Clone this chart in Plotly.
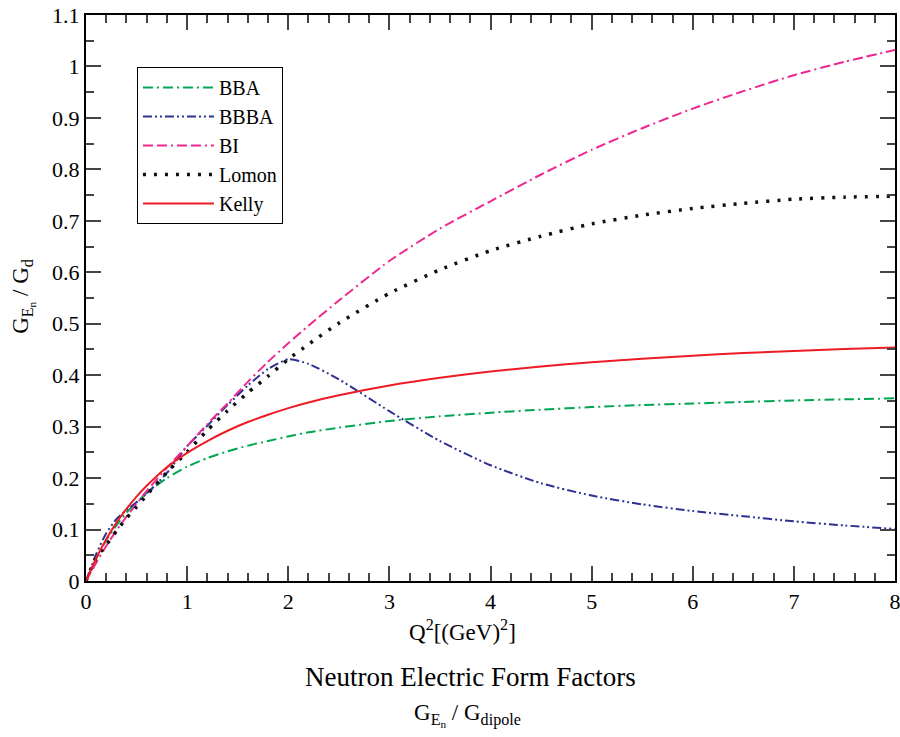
import plotly.graph_objects as go

Q2 = [0, 0.1, 0.2, 0.3, 0.4, 0.5, 0.6, 0.8, 1.0, 1.2, 1.4, 1.6, 1.8, 2.0, 2.2, 2.5,
      3.0, 3.5, 4.0, 4.5, 5.0, 5.5, 6.0, 6.5, 7.0, 7.5, 8.0]

bba = [0, 0.043, 0.079, 0.108, 0.133, 0.153, 0.171, 0.200, 0.222, 0.239, 0.252, 0.263,
       0.272, 0.281, 0.289, 0.298, 0.311, 0.320, 0.327, 0.333, 0.338, 0.342, 0.345,
       0.348, 0.351, 0.353, 0.355]
bbba = [0, 0.052, 0.093, 0.120, 0.138, 0.153, 0.170, 0.210, 0.262, 0.302, 0.342, 0.380,
        0.412, 0.431, 0.422, 0.392, 0.330, 0.272, 0.225, 0.190, 0.166, 0.149, 0.136,
        0.126, 0.116, 0.108, 0.101]
bi = [0, 0.035, 0.068, 0.098, 0.125, 0.150, 0.175, 0.220, 0.262, 0.305, 0.345, 0.387,
      0.426, 0.462, 0.496, 0.545, 0.622, 0.685, 0.738, 0.790, 0.838, 0.880, 0.918,
      0.952, 0.983, 1.009, 1.032]
lomon = [0, 0.045, 0.070, 0.097, 0.122, 0.144, 0.167, 0.211, 0.251, 0.293, 0.331, 0.366,
         0.398, 0.431, 0.460, 0.501, 0.559, 0.605, 0.642, 0.670, 0.694, 0.711, 0.724,
         0.734, 0.742, 0.746, 0.748]
kelly = [0, 0.044, 0.081, 0.113, 0.140, 0.164, 0.185, 0.221, 0.249, 0.272, 0.292, 0.309,
         0.323, 0.336, 0.347, 0.361, 0.380, 0.395, 0.407, 0.417, 0.425, 0.432, 0.438,
         0.443, 0.447, 0.451, 0.454]

names = ["BBA", "BBBA", "BI", "Lomon", "Kelly"]
FONT = "Liberation Serif"

series = [
    (bba, "#00a651", "10px,4px,2px,4px", 2),
    (bbba, "#2e3192", "9px,3px,2px,3px,2px,3px", 2),
    (bi, "#ec2890", "10px,4px,10px,4px,2px,4px", 2),
    (lomon, "#111111", "3px,8px", 3.5),
    (kelly, "#ed1c24", "solid", 2),
]

fig = go.Figure()
for (vals, col, dash, w), nm in zip(series, names):
    fig.add_trace(go.Scatter(x=Q2, y=vals, mode="lines", name=nm,
                             line=dict(color=col, dash=dash, width=w, shape="spline", smoothing=0.6)))

axis_common = dict(showline=True, linecolor="black", linewidth=2, mirror="ticks",
                   ticks="inside", ticklen=15, tickwidth=2, tickcolor="#444444",
                   showgrid=False, zeroline=False, automargin=False,
                   ticklabeloverflow="allow",
                   tickfont=dict(family=FONT, size=22, color="black"))

fig.update_xaxes(range=[0, 8], dtick=1, tick0=0,
                 minor=dict(ticks="inside", ticklen=8, tickwidth=2, tickcolor="#444444", dtick=0.2),
                 **axis_common)
fig.update_yaxes(range=[0, 1.1], dtick=0.1, tick0=0,
                 minor=dict(ticks="inside", ticklen=8, tickwidth=2, tickcolor="#444444", dtick=0.05),
                 **axis_common)

fig.update_layout(
    width=900, height=737,
    margin=dict(l=86, r=5, t=15, b=156, autoexpand=False),
    plot_bgcolor="white", paper_bgcolor="white",
    font=dict(family=FONT, size=22, color="black"),
    legend=dict(x=0.063, y=0.908, xanchor="left", yanchor="top",
                bordercolor="black", borderwidth=1, bgcolor="white",
                font=dict(family=FONT, size=20), itemwidth=71,
                tracegroupgap=0),
    showlegend=True,
    annotations=[
        dict(text="Q<sup>2</sup>[(GeV)<sup>2</sup>]", x=0.465, y=0, xref="paper", yref="paper",
             xanchor="center", yanchor="middle", yshift=-49, showarrow=False,
             font=dict(family=FONT, size=23)),
        dict(text="Neutron Electric Form Factors", x=0.475, y=0, xref="paper", yref="paper",
             xanchor="center", yanchor="middle", yshift=-96, showarrow=False,
             font=dict(family=FONT, size=27)),
        dict(text="G<sub>E<sub>n</sub></sub> / G<sub>dipole</sub>", x=0.471, y=0, xref="paper",
             yref="paper", xanchor="center", yanchor="middle", yshift=-134, showarrow=False,
             font=dict(family=FONT, size=23)),
        dict(text="G<sub>E<sub>n</sub></sub> / G<sub>d</sub>", x=0, y=0.502, xref="paper",
             yref="paper", xanchor="center", yanchor="middle", xshift=-63, textangle=-90,
             showarrow=False, font=dict(family=FONT, size=23)),
    ],
)

fig.write_html("out.html")
